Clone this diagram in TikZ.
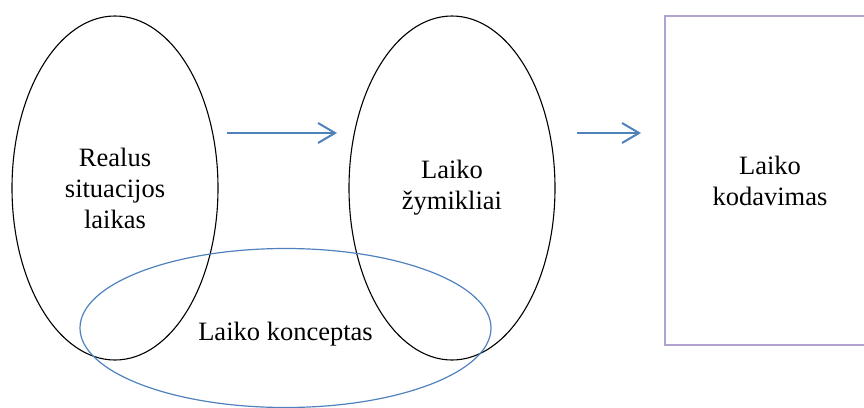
\documentclass[tikz,border=0pt]{standalone}
\usepackage{fontspec}
\setmainfont{Liberation Serif}
\usetikzlibrary{shapes.geometric,arrows.meta}
\definecolor{ablue}{RGB}{79,129,189}
\definecolor{lav}{RGB}{178,162,210}
\tikzset{
  txt/.style={font=\fontsize{26.5pt}{31pt}\selectfont, align=center},
  bigell/.style={draw=black, line width=1.1pt, ellipse, inner sep=0pt, minimum width=206pt, minimum height=344pt, txt},
  blueell/.style={draw=ablue, line width=1.2pt, ellipse, inner sep=0pt, minimum width=411pt, minimum height=159pt},
  boxn/.style={draw=lav, line width=1.1pt, rectangle, inner sep=0pt, minimum width=210pt, minimum height=329pt, txt},
  arr/.style={draw=ablue, line width=2pt, -{Straight Barb[length=17pt,width=20pt,line width=2pt]}}
}
\begin{document}
\begin{tikzpicture}[x=1pt,y=-1pt]
\useasboundingbox (0,0) rectangle (864,407);
\node[bigell] (e1) at (115,188) {Realus\\situacijos\\laikas};
\node[bigell] (e2) at (452,188) {Laiko\\žymikliai};
\node[blueell] (e3) at (285.5,328) {};
\node[txt, anchor=base] (t3) at (285.5,340) {Laiko konceptas};
\node[boxn] (b) at (770,180.5) {Laiko\\kodavimas};
\coordinate (a1s) at (227,133);
\coordinate (a1e) at (337,133);
\coordinate (a2s) at (577,133);
\coordinate (a2e) at (641,133);
\draw[arr] (a1s) -- (a1e);
\draw[arr] (a2s) -- (a2e);
\end{tikzpicture}
\end{document}
